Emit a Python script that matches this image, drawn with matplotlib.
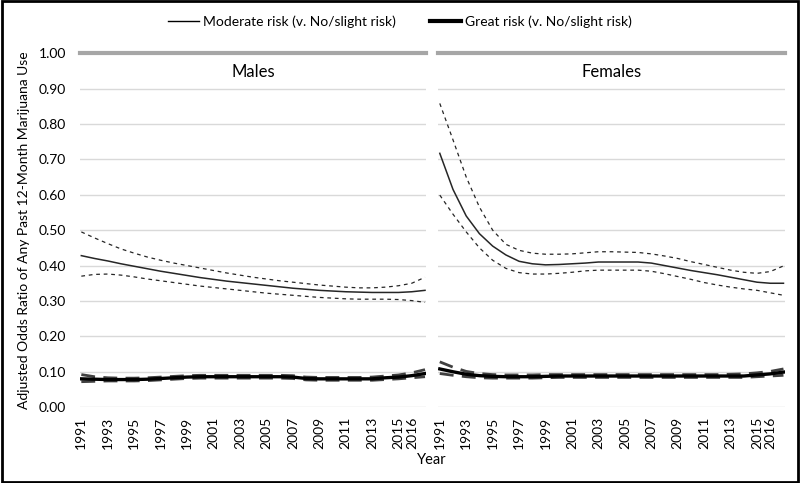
# -*- coding: utf-8 -*-
"""
Adjusted odds ratio of past 12-month marijuana use by perceived risk,
males vs females, 1991-2017
"""

import numpy as np
import matplotlib.pyplot as plt
from matplotlib.lines import Line2D
from matplotlib.patches import Rectangle

plt.rcParams["font.family"] = ["Lato", "DejaVu Sans"]

# ============================================================
# DATA
# ============================================================

years = list(range(1991, 2018))
tick_years = [1991, 1993, 1995, 1997, 1999, 2001, 2003, 2005, 2007,
              2009, 2011, 2013, 2015, 2016]

# Males - moderate risk
male_mod = [0.428, 0.420, 0.413, 0.405, 0.398, 0.391, 0.384, 0.378, 0.372,
            0.366, 0.361, 0.356, 0.352, 0.348, 0.344, 0.340, 0.336, 0.333,
            0.330, 0.328, 0.326, 0.325, 0.324, 0.324, 0.324, 0.326, 0.330]
male_mod_hi = [0.495, 0.478, 0.462, 0.447, 0.435, 0.424, 0.415, 0.407, 0.400,
               0.393, 0.386, 0.379, 0.373, 0.367, 0.362, 0.357, 0.353, 0.349,
               0.345, 0.342, 0.339, 0.337, 0.337, 0.339, 0.343, 0.350, 0.367]
male_mod_lo = [0.370, 0.375, 0.376, 0.373, 0.368, 0.362, 0.357, 0.352, 0.347,
               0.342, 0.338, 0.334, 0.330, 0.326, 0.322, 0.319, 0.316, 0.313,
               0.310, 0.308, 0.306, 0.305, 0.305, 0.305, 0.304, 0.301, 0.296]

# Males - great risk
male_great = [0.080, 0.079, 0.078, 0.078, 0.078, 0.079, 0.081, 0.083, 0.085,
              0.086, 0.086, 0.086, 0.086, 0.086, 0.086, 0.086, 0.085, 0.081,
              0.080, 0.080, 0.080, 0.080, 0.080, 0.083, 0.085, 0.089, 0.095]
male_great_hi = [0.092, 0.086, 0.083, 0.082, 0.082, 0.083, 0.085, 0.087, 0.089,
                 0.090, 0.090, 0.090, 0.090, 0.090, 0.090, 0.090, 0.089, 0.085,
                 0.084, 0.084, 0.084, 0.084, 0.085, 0.088, 0.091, 0.097, 0.106]
male_great_lo = [0.072, 0.073, 0.074, 0.074, 0.074, 0.075, 0.077, 0.079, 0.081,
                 0.082, 0.082, 0.082, 0.082, 0.082, 0.082, 0.082, 0.081, 0.077,
                 0.076, 0.076, 0.076, 0.076, 0.076, 0.078, 0.080, 0.083, 0.086]

# Females - moderate risk
female_mod = [0.717, 0.615, 0.540, 0.490, 0.455, 0.430, 0.412, 0.405, 0.402,
              0.403, 0.405, 0.407, 0.410, 0.410, 0.410, 0.410, 0.407, 0.400,
              0.393, 0.386, 0.380, 0.374, 0.367, 0.360, 0.353, 0.350, 0.350]
female_mod_hi = [0.858, 0.755, 0.650, 0.565, 0.500, 0.460, 0.443, 0.435, 0.432,
                 0.432, 0.433, 0.436, 0.439, 0.439, 0.438, 0.437, 0.433, 0.427,
                 0.420, 0.411, 0.403, 0.395, 0.387, 0.381, 0.378, 0.383, 0.399]
female_mod_lo = [0.599, 0.545, 0.495, 0.450, 0.415, 0.392, 0.380, 0.376, 0.376,
                 0.378, 0.381, 0.385, 0.387, 0.387, 0.387, 0.387, 0.384, 0.377,
                 0.369, 0.361, 0.352, 0.345, 0.339, 0.334, 0.330, 0.323, 0.316]

# Females - great risk
female_great = [0.108, 0.100, 0.093, 0.089, 0.087, 0.086, 0.086, 0.086, 0.087,
                0.088, 0.088, 0.088, 0.088, 0.088, 0.088, 0.088, 0.088, 0.088,
                0.088, 0.088, 0.088, 0.088, 0.088, 0.088, 0.091, 0.094, 0.099]
female_great_hi = [0.128, 0.113, 0.101, 0.095, 0.092, 0.091, 0.091, 0.091, 0.092,
                   0.092, 0.092, 0.092, 0.092, 0.092, 0.092, 0.092, 0.092, 0.092,
                   0.092, 0.092, 0.092, 0.092, 0.093, 0.094, 0.097, 0.101, 0.108]
female_great_lo = [0.095, 0.090, 0.086, 0.083, 0.082, 0.082, 0.082, 0.082, 0.083,
                   0.084, 0.084, 0.084, 0.084, 0.084, 0.084, 0.084, 0.084, 0.084,
                   0.084, 0.084, 0.084, 0.084, 0.084, 0.084, 0.086, 0.088, 0.090]

panels = [
    ("Males", male_mod, male_mod_hi, male_mod_lo,
     male_great, male_great_hi, male_great_lo),
    ("Females", female_mod, female_mod_hi, female_mod_lo,
     female_great, female_great_hi, female_great_lo),
]

# ============================================================
# PLOT
# ============================================================

fig, axes = plt.subplots(1, 2, figsize=(8, 4.83), dpi=100, sharey=True)
fig.subplots_adjust(left=0.100, right=0.981, bottom=0.157, top=0.890, wspace=0.035)

grid_col = "#d9d9d9"

for ax, (name, mod, mod_hi, mod_lo, great, great_hi, great_lo) in zip(axes, panels):
    # light horizontal gridlines
    for v in np.arange(0.0, 1.0, 0.1):
        ax.axhline(v, color=grid_col, lw=1, zorder=0)
    # header strip at the top
    ax.axhline(1.0, color="#a6a6a6", lw=3, clip_on=False, zorder=1)

    # moderate risk + CI
    ax.plot(years, mod, color="#262626", lw=1.1, zorder=3)
    ax.plot(years, mod_hi, color="#262626", lw=0.9, dashes=(3, 3), zorder=3)
    ax.plot(years, mod_lo, color="#262626", lw=0.9, dashes=(3, 3), zorder=3)

    # great risk + CI
    ax.plot(years, great_hi, color="#404040", lw=2.0, dashes=(5, 3), zorder=3)
    ax.plot(years, great_lo, color="#404040", lw=2.0, dashes=(5, 3), zorder=3)
    ax.plot(years, great, color="black", lw=2.4, zorder=4)

    # panel title just below the header strip
    ax.text(0.5, 0.946, name, transform=ax.transAxes,
            ha="center", va="center", fontsize=12)

    ax.set_xlim(1990.9, 2017.1)
    ax.set_ylim(0, 1.0)
    ax.set_xticks(tick_years)
    ax.set_xticklabels([str(y) for y in tick_years], rotation=90, fontsize=10)
    ax.tick_params(axis="both", length=0)
    ax.tick_params(axis="x", pad=7)
    for s in ax.spines.values():
        s.set_visible(False)

axes[0].set_yticks(np.arange(0, 1.01, 0.1))
axes[0].set_yticklabels([f"{v:.2f}" for v in np.arange(0, 1.01, 0.1)], fontsize=10)
axes[0].tick_params(axis="y", pad=10)
axes[1].tick_params(axis="y", labelleft=False)

axes[0].set_ylabel("Adjusted Odds Ratio of Any Past 12-Month Marijuana Use",
                   fontsize=10, labelpad=6)
fig.text(0.54, 0.048, "Year", ha="center", va="center", fontsize=10.5)

handles = [
    Line2D([], [], color="black", lw=1),
    Line2D([], [], color="black", lw=3),
]
fig.legend(handles, ["Moderate risk (v. No/slight risk)", "Great risk (v. No/slight risk)"],
           loc="center", bbox_to_anchor=(0.5, 0.955), ncol=2, frameon=False,
           fontsize=10, handlelength=2.2, handletextpad=0.3, columnspacing=2.5)

# outer black frame of the picture
fig.patches.append(Rectangle((0.002, 0.003), 0.996, 0.994, transform=fig.transFigure,
                             fill=False, edgecolor="black", lw=2))

plt.savefig("out.png", dpi=100)
plt.close()
